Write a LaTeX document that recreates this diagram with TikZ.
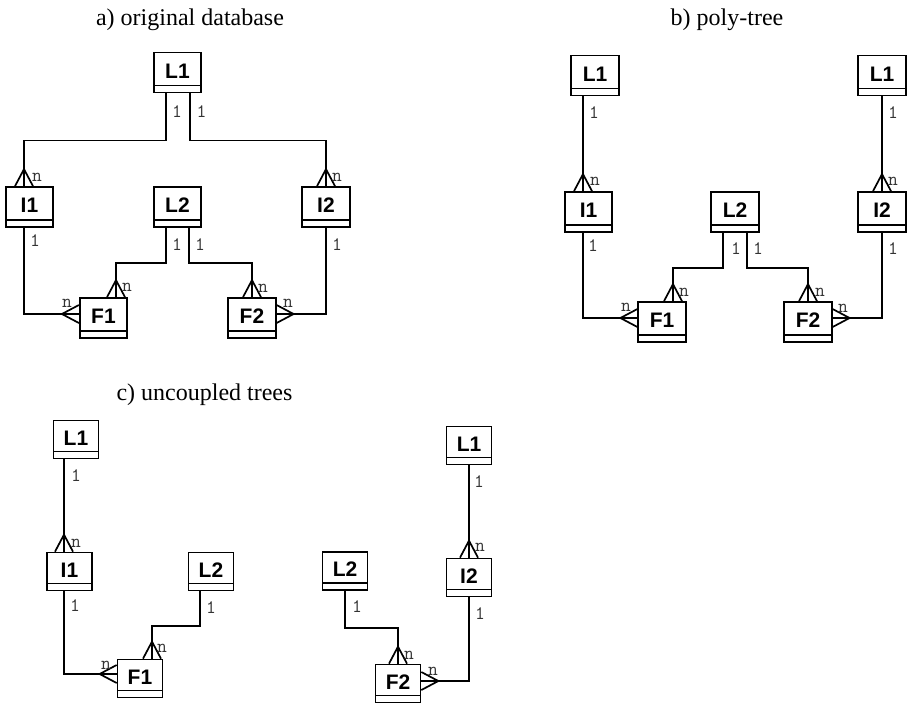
\documentclass[tikz,border=0pt]{standalone}
\usepackage{fontspec}
\setmainfont{Liberation Serif}
\setsansfont{Liberation Sans}
\tikzset{
  entity/.style={draw, rectangle, line width=1.7pt, inner sep=0pt,
    minimum width=47.5pt, minimum height=40pt,
    font=\fontsize{21}{21}\selectfont\sffamily\bfseries,
    text height=15pt, text depth=4pt,
    path picture={\draw[line width=1.7pt]
      ([yshift=7pt]path picture bounding box.south west) --
      ([yshift=7pt]path picture bounding box.south east);}},
  small/.style={minimum width=45pt, minimum height=38pt},
  card/.style={font=\fontsize{19}{19}\selectfont\ttfamily, text=black!80, inner sep=0pt},
  title/.style={font=\fontsize{24}{24}\selectfont, anchor=base},
  rel/.style={line width=1.7pt}
}
\begin{document}
\begin{tikzpicture}[x=1pt, y=-1pt]
      \useasboundingbox (0,0) rectangle (910,702);
      \node[title] (ta) at (190,25) {a) original database};
      \node[title] (tb) at (727,25) {b) poly-tree};
      \node[title] (tc) at (204.5,400) {c) uncoupled trees};

      \node[entity] (la1) at (177.5,72.5) {L1};
      \node[entity] (ia1) at (29.5,207) {I1};
      \node[entity] (la2) at (177.5,207) {L2};
      \node[entity] (ia2) at (326,207) {I2};
      \node[entity] (fa1) at (103.5,318) {F1};
      \node[entity] (fa2) at (252,318) {F2};

      \node[entity] (lb1) at (595,75.5) {L1};
      \node[entity] (lb1r) at (882,75.5) {L1};
      \node[entity] (ib1) at (588.5,212) {I1};
      \node[entity] (lb2) at (735,212) {L2};
      \node[entity] (ib2) at (882,212) {I2};
      \node[entity] (fb1) at (662,322) {F1};
      \node[entity] (fb2) at (808,322) {F2};

      \node[entity, small] (lc1) at (76,439.5) {L1};
      \node[entity, small] (ic1) at (69.5,571.5) {I1};
      \node[entity, small] (lc2) at (211,571.5) {L2};
      \node[entity, small] (fc1) at (140,678.5) {F1};
      \node[entity, small] (lc2r) at (345,571) {L2};
      \node[entity, small] (lc1r) at (469,445.5) {L1};
      \node[entity, small] (ic2) at (469,577.5) {I2};
      \node[entity, small] (fc2) at (398,683.5) {F2};

      \begin{scope}[rel]
        \draw ([xshift=-11.5pt]la1.south) -- ++(0,47) -| ([xshift=-5.5pt]ia1.north);
        \draw ([xshift=12.5pt]la1.south) -- ++(0,47) -| (ia2.north);
        \draw ([xshift=-5.5pt]ia1.south) |- ([yshift=4pt]fa1.west);
        \draw ([xshift=-11.5pt]la2.south) -- ++(0,35) -| ([xshift=12.5pt]fa1.north);
        \draw ([xshift=11.5pt]la2.south) -- ++(0,35) -| (fa2.north);
        \draw (ia2.south) |- ([yshift=4pt]fa2.east);
        \draw ([xshift=-14.5pt]ia1.north) -- ++(9,-17) -- ++(9,17);
        \draw ([xshift=-9pt]ia2.north) -- ++(9,-17) -- ++(9,17);
        \draw ([yshift=13pt]fa1.west) -- ++(-17,9) -- ++(17,9);
        \draw ([xshift=3.5pt]fa1.north) -- ++(9,-17) -- ++(9,17);
        \draw ([xshift=-9pt]fa2.north) -- ++(9,-17) -- ++(9,17);
        \draw ([yshift=13pt]fa2.east) -- ++(17,9) -- ++(-17,9);

        \draw ([xshift=-12pt]lb1.south) -- ([xshift=-5.5pt]ib1.north);
        \draw (lb1r.south) -- (ib2.north);
        \draw ([xshift=-5.5pt]ib1.south) |- ([yshift=4pt]fb1.west);
        \draw ([xshift=-12pt]lb2.south) -- ++(0,35) -| ([xshift=11pt]fb1.north);
        \draw ([xshift=12pt]lb2.south) -- ++(0,35) -| (fb2.north);
        \draw (ib2.south) |- ([yshift=4pt]fb2.east);
        \draw ([xshift=-14.5pt]ib1.north) -- ++(9,-17) -- ++(9,17);
        \draw ([xshift=-9pt]ib2.north) -- ++(9,-17) -- ++(9,17);
        \draw ([yshift=13pt]fb1.west) -- ++(-17,9) -- ++(17,9);
        \draw ([xshift=2pt]fb1.north) -- ++(9,-17) -- ++(9,17);
        \draw ([xshift=-9pt]fb2.north) -- ++(9,-17) -- ++(9,17);
        \draw ([yshift=13pt]fb2.east) -- ++(17,9) -- ++(-17,9);

        \draw ([xshift=-12pt]lc1.south) -- ([xshift=-5.5pt]ic1.north);
        \draw ([xshift=-5.5pt]ic1.south) |- ([yshift=4.5pt]fc1.west);
        \draw ([xshift=-11pt]lc2.south) -- ++(0,34.5) -| ([xshift=12pt]fc1.north);
        \draw (lc2r.south) -- ++(0,37) -| (fc2.north);
        \draw (lc1r.south) -- (ic2.north);
        \draw (ic2.south) |- ([yshift=2.5pt]fc2.east);
        \draw ([xshift=-14.5pt]ic1.north) -- ++(9,-17) -- ++(9,17);
        \draw ([yshift=13.5pt]fc1.west) -- ++(-17,9) -- ++(17,9);
        \draw ([xshift=3pt]fc1.north) -- ++(9,-17) -- ++(9,17);
        \draw ([xshift=-9pt]fc2.north) -- ++(9,-17) -- ++(9,17);
        \draw ([xshift=-9pt]ic2.north) -- ++(9,-17) -- ++(9,17);
        \draw ([yshift=11.5pt]fc2.east) -- ++(17,9) -- ++(-17,9);
      \end{scope}

      \node[card] (a1) at (177,112) {1};
      \node[card] (a2) at (201.5,112) {1};
      \node[card] (a3) at (35,241) {1};
      \node[card] (a4) at (177,245) {1};
      \node[card] (a5) at (200,245) {1};
      \node[card] (a6) at (337,245) {1};
      \node[card] (a7) at (37,177) {n};
      \node[card] (a8) at (337,177) {n};
      \node[card] (a9) at (67,303) {n};
      \node[card] (a10) at (127,287) {n};
      \node[card] (a11) at (263,288) {n};
      \node[card] (a12) at (288,303) {n};

      \node[card] (b1) at (594,113) {1};
      \node[card] (b2) at (893,113) {1};
      \node[card] (b3) at (593,246) {1};
      \node[card] (b4) at (736,249) {1};
      \node[card] (b5) at (758,249) {1};
      \node[card] (b6) at (893,249) {1};
      \node[card] (b7) at (595,181) {n};
      \node[card] (b8) at (893,181) {n};
      \node[card] (b9) at (626,307) {n};
      \node[card] (b10) at (684,292) {n};
      \node[card] (b11) at (820,292) {n};
      \node[card] (b12) at (843,308) {n};

      \node[card] (c1) at (76,476) {1};
      \node[card] (c2) at (75,606) {1};
      \node[card] (c3) at (211,608) {1};
      \node[card] (c4) at (357,607) {1};
      \node[card] (c5) at (479,482) {1};
      \node[card] (c6) at (480,614) {1};
      \node[card] (c7) at (76,543) {n};
      \node[card] (c8) at (106,665) {n};
      \node[card] (c9) at (162,648) {n};
      \node[card] (c10) at (409,655) {n};
      \node[card] (c11) at (480,547) {n};
      \node[card] (c12) at (433,671) {n};
    \end{tikzpicture}
\end{document}
